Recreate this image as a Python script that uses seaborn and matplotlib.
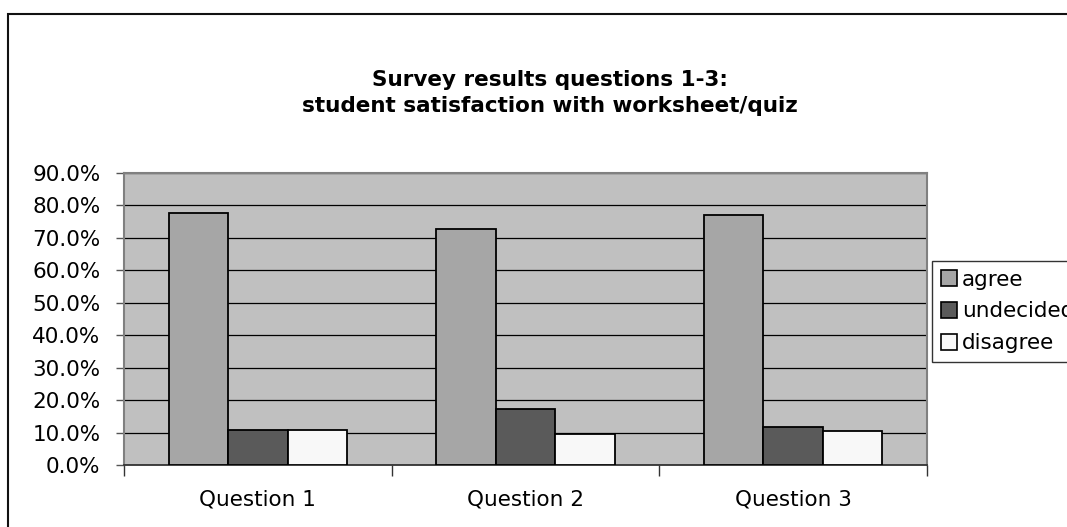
import matplotlib
matplotlib.use("Agg")
import matplotlib.pyplot as plt
from matplotlib.patches import Rectangle
from matplotlib.ticker import FixedLocator, FuncFormatter
import seaborn as sns
import pandas as pd

# ---- data (percent) ----
questions = ["Question 1", "Question 2", "Question 3"]
responses = ["agree", "undecided", "disagree"]
agree = [77.8, 72.8, 77.0]
undecided = [10.8, 17.3, 11.7]
disagree = [10.8, 9.6, 10.6]
yticks = [0, 10, 20, 30, 40, 50, 60, 70, 80, 90]
title = "Survey results questions 1-3:\nstudent satisfaction with worksheet/quiz"
colors = ["#a6a6a6", "#5a5a5a", "#f8f8f8"]

rows = []
for series, vals in zip(responses, [agree, undecided, disagree]):
    for q, v in zip(questions, vals):
        rows.append({"question": q, "response": series, "value": v})
df = pd.DataFrame(rows)

sns.set_theme(style="white")
plt.rcParams["font.family"] = ["DejaVu Sans"]
plt.rcParams["text.color"] = "black"
plt.rcParams["xtick.color"] = "black"
plt.rcParams["ytick.color"] = "black"

W, H = 1067, 527
fig = plt.figure(figsize=(W / 100, H / 100), dpi=100)
fig.patch.set_facecolor("white")
ax = fig.add_axes([124 / W, 1 - 465 / H, (927 - 124) / W, (465 - 173) / H])
ax.set_facecolor("#c0c0c0")

sns.barplot(data=df, x="question", y="value", hue="response",
            order=questions, hue_order=responses, palette=colors,
            width=0.667, gap=0, edgecolor="black", linewidth=1.3,
            saturation=1, errorbar=None, ax=ax, zorder=3)

ax.set_xlim(-0.5, 2.5)
ax.set_ylim(0, 90)
ax.yaxis.set_major_locator(FixedLocator(yticks))
ax.yaxis.set_major_formatter(FuncFormatter(lambda v, p: f"{v:.1f}%"))
ax.set_xlabel("")
ax.set_ylabel("")
ax.set_xticks([0, 1, 2])
ax.set_xticklabels(questions)
ax.set_xticks([-0.5, 0.5, 1.5, 2.5], minor=True)
ax.tick_params(axis="x", which="major", length=0, pad=18, labelsize=15.5,
               labelcolor="black")
ax.tick_params(axis="x", which="minor", length=8, width=1, color="#333333", bottom=True)
ax.tick_params(axis="y", which="major", length=6, width=1, color="#555555",
               pad=11, labelsize=15.5, labelcolor="black", left=True)

ax.yaxis.grid(True, color="black", linewidth=0.9)
ax.xaxis.grid(False)
ax.set_axisbelow(True)

for side in ["top", "right", "left"]:
    ax.spines[side].set_visible(True)
    ax.spines[side].set_color("#808080")
    ax.spines[side].set_linewidth(1.5)
ax.spines["bottom"].set_color("#333333")
ax.spines["bottom"].set_linewidth(1.3)

handles, labels = ax.get_legend_handles_labels()
if ax.get_legend() is not None:
    ax.get_legend().remove()
leg = fig.legend(handles, labels, loc="upper left",
                 bbox_to_anchor=(932 / W, 1 - 261 / H),
                 bbox_transform=fig.transFigure, borderaxespad=0,
                 frameon=True, fancybox=False, fontsize=15.5,
                 handlelength=0.75, handleheight=0.75, handletextpad=0.25,
                 labelspacing=0.55, borderpad=0.4)
leg.get_frame().set_edgecolor("black")
leg.get_frame().set_linewidth(1.0)
for t in leg.get_texts():
    t.set_color("black")
for h in leg.legend_handles:
    h.set_edgecolor("black")
    h.set_linewidth(1.2)

fig.text(0.5155, 1 - 93 / H, title, ha="center", va="center", color="black",
         fontsize=15.5, fontweight="bold", linespacing=1.4)

fig.add_artist(Rectangle((8 / W, -0.5), 2.0, 0.5 + (1 - 14 / H),
                         transform=fig.transFigure, fill=False,
                         edgecolor="#111111", linewidth=1.5, zorder=0))

fig.savefig("out.png", dpi=100)
